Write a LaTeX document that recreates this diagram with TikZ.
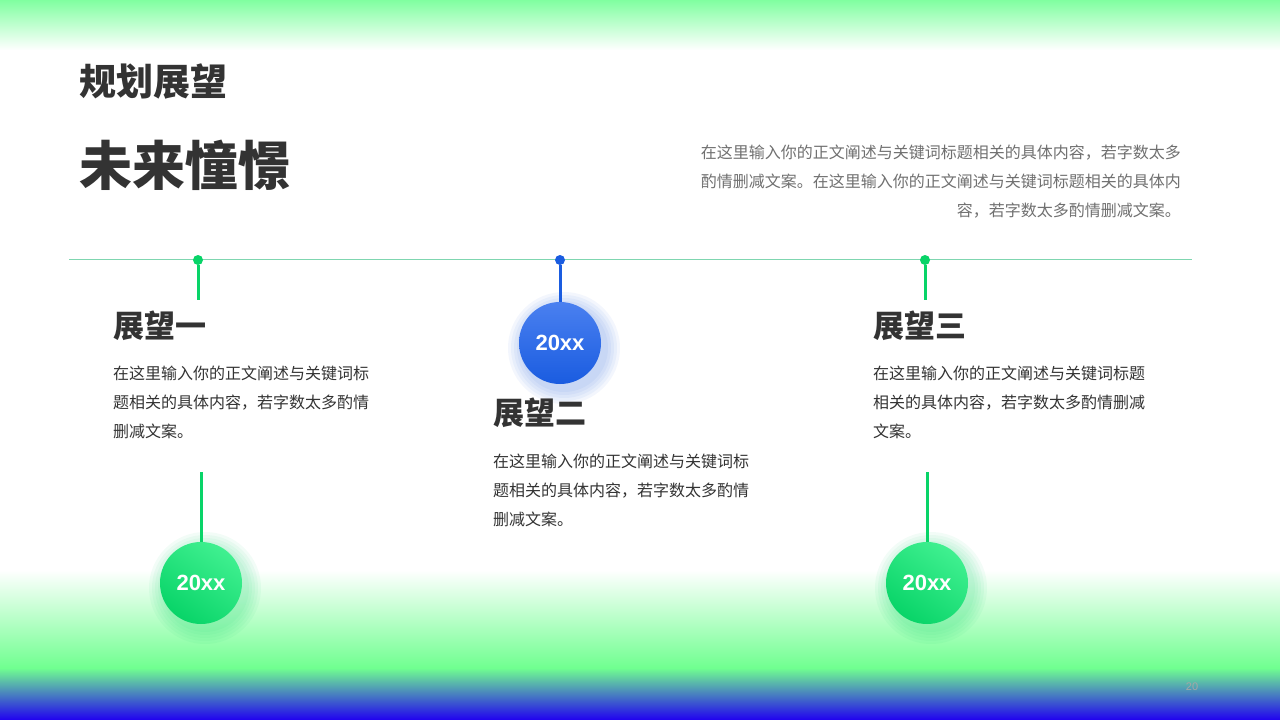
\documentclass[tikz,border=0pt]{standalone}
\usepackage{fontspec}
\setmainfont{Noto Sans CJK SC}
\newfontfamily\numf{Liberation Sans}
\definecolor{tgreen}{HTML}{80FFA0}
\definecolor{bgreen}{HTML}{70FF90}
\definecolor{bblue}{HTML}{2000F0}
\definecolor{dgreen}{HTML}{08D468}
\definecolor{lgreen}{HTML}{40F090}
\definecolor{dblue}{HTML}{1A5CE0}
\definecolor{lblue}{HTML}{4A80F0}
\definecolor{txt}{HTML}{333333}
\definecolor{gtxt}{HTML}{707070}
\definecolor{linec}{HTML}{7FD6B0}
\tikzset{
 head/.style={anchor=west,font=\fontsize{31}{31}\selectfont\bfseries,text=txt,inner sep=0},
 para/.style={anchor=north west,align=left,font=\fontsize{16}{29}\selectfont,text=txt,inner sep=0},
 gball/.style={circle,minimum size=82pt,inner sep=0,top color=lgreen,bottom color=dgreen,shading angle=-35,text=white,font=\numf\fontsize{22}{22}\selectfont\bfseries},
 bball/.style={gball,top color=lblue,bottom color=dblue},
 gdot/.style={circle,fill=dgreen,minimum size=10pt,inner sep=0},
 bdot/.style={gdot,fill=dblue},
 halo/.style={fill=#1,fill opacity=0.05},
}
\newcommand\mkhalo[3]{\foreach \r in {44,47,50,53,56}{\fill[halo=#3] (#1+4,#2+5) circle (\r);}}
\begin{document}
\begin{tikzpicture}[x=1pt,y=-1pt]
\useasboundingbox (0,0) rectangle (1280,720);
\fill[white] (0,0) rectangle (1280,720);
\shade[top color=tgreen,bottom color=white] (0,0) rectangle (1280,50);
\fill[white] (0,50) rectangle (1280,570);
\shade[top color=white,bottom color=bgreen] (0,570) rectangle (1280,668);
\shade[top color=bgreen,bottom color=bblue] (0,668) rectangle (1280,720);
\node[anchor=west,inner sep=0,font=\fontsize{37}{37}\selectfont\bfseries,text=txt] (t1) at (79,82) {规划展望};
\node[anchor=west,inner sep=0,font=\fontsize{53}{53}\selectfont\bfseries,text=txt] (t2) at (79,165) {未来憧憬};
\node[anchor=north east,align=right,inner sep=0,font=\fontsize{16}{29}\selectfont,text=gtxt] (intro) at (1181,145) {在这里输入你的正文阐述与关键词标题相关的具体内容，若字数太多\\酌情删减文案。在这里输入你的正文阐述与关键词标题相关的具体内\\容，若字数太多酌情删减文案。};
\coordinate (L) at (69,259); \coordinate (R) at (1192,259);
\draw[color=linec,line width=1pt] (L) -- (R);
\mkhalo{560}{343}{dblue}
\mkhalo{201}{583}{dgreen}
\mkhalo{927}{583}{dgreen}
\node[gdot] (d1) at (198,260) {};
\node[bdot] (d2) at (560,260) {};
\node[gdot] (d3) at (925,260) {};
\coordinate (s1) at (198,300); \coordinate (s3) at (925,300);
\node[bball] (c2) at (560,343) {20xx};
\node[gball] (c1) at (201,583) {20xx};
\node[gball] (c3) at (927,583) {20xx};
\coordinate (u1) at (201,472); \coordinate (u3) at (927,472);
\draw[dgreen,line width=3pt] (d1) -- (s1);
\draw[dgreen,line width=3pt] (d3) -- (s3);
\draw[dblue,line width=3pt] (d2) -- (c2);
\draw[dgreen,line width=3pt] (u1) -- (c1);
\draw[dgreen,line width=3pt] (u3) -- (c3);
\node[head] (h1) at (113,326) {展望一};
\node[para] (p1) at (113,366) {在这里输入你的正文阐述与关键词标\\题相关的具体内容，若字数太多酌情\\删减文案。};
\node[head] (h2) at (493,413) {展望二};
\node[para] (p2) at (493,454) {在这里输入你的正文阐述与关键词标\\题相关的具体内容，若字数太多酌情\\删减文案。};
\node[head] (h3) at (873,326) {展望三};
\node[para] (p3) at (873,366) {在这里输入你的正文阐述与关键词标题\\相关的具体内容，若字数太多酌情删减\\文案。};
\node[text=gray!70,font=\numf\fontsize{11}{11}\selectfont] (pg) at (1192,687) {20};
\end{tikzpicture}
\end{document}
